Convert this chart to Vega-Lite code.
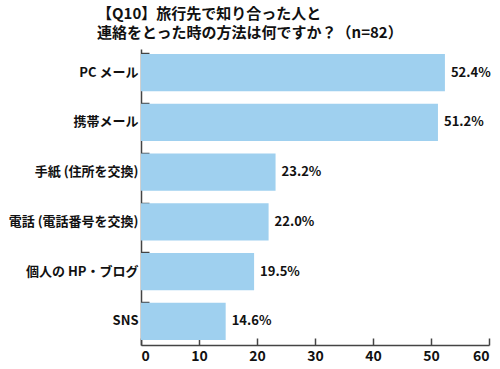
{
  "$schema": "https://vega.github.io/schema/vega-lite/v6.json",
  "width": 348,
  "height": 296,
  "autosize": "none",
  "padding": {"left": 141, "top": 49, "right": 11, "bottom": 24},
  "background": "white",
  "title": {
    "text": ["【Q10】旅行先で知り合った人と", "連絡をとった時の方法は何ですか？（n=82）"],
    "anchor": "start",
    "frame": "group",
    "dx": -44,
    "offset": 8,
    "font": "Noto Sans CJK JP",
    "fontSize": 15,
    "fontWeight": "bold",
    "lineHeight": 19,
    "color": "#111"
  },
  "data": {
    "values": [
      {"method": "PC メール", "value": 52.4, "label": "52.4%"},
      {"method": "携帯メール", "value": 51.2, "label": "51.2%"},
      {"method": "手紙 (住所を交換)", "value": 23.2, "label": "23.2%"},
      {"method": "電話 (電話番号を交換)", "value": 22.0, "label": "22.0%"},
      {"method": "個人の HP・ブログ", "value": 19.5, "label": "19.5%"},
      {"method": "SNS", "value": 14.6, "label": "14.6%"}
    ]
  },
  "config": {
    "view": {"stroke": null},
    "axis": {
      "labelFont": "Noto Sans CJK JP",
      "labelFontWeight": "bold",
      "labelFontSize": 13,
      "labelColor": "#111",
      "domainColor": "#444",
      "tickColor": "#444",
      "domainWidth": 1.5,
      "tickWidth": 1.5,
      "grid": false,
      "title": null
    }
  },
  "encoding": {
    "y": {
      "field": "method",
      "type": "nominal",
      "sort": null,
      "scale": {"paddingInner": 0.25, "paddingOuter": 0.1},
      "axis": {"tickSize": -8, "bandPosition": 0, "labelPadding": 11, "labelLimit": 200}
    }
  },
  "layer": [
    {
      "mark": {"type": "bar", "color": "#9fd0ef"},
      "encoding": {
        "x": {
          "field": "value",
          "type": "quantitative",
          "scale": {"domain": [0, 60], "nice": false},
          "axis": {"values": [0, 10, 20, 30, 40, 50, 60], "tickSize": -7, "labelPadding": 11, "labelFontSize": 14}
        }
      }
    },
    {
      "mark": {"type": "text", "align": "left", "dx": 6, "font": "Noto Sans CJK JP", "fontWeight": "bold", "fontSize": 13, "color": "#111"},
      "encoding": {
        "x": {"field": "value", "type": "quantitative"},
        "text": {"field": "label"}
      }
    }
  ]
}
